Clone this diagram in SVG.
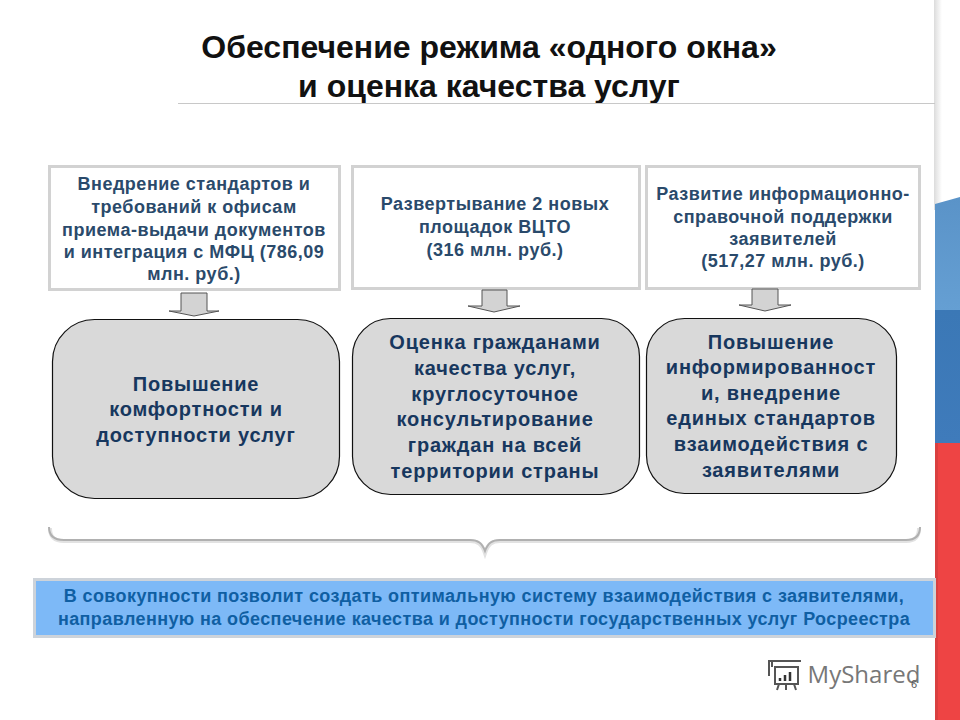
<svg xmlns="http://www.w3.org/2000/svg" width="960" height="720" viewBox="0 0 960 720">
<defs>
<linearGradient id="shade" x1="0" y1="0" x2="1" y2="0"><stop offset="0" stop-color="#dcdcdc"/><stop offset="1" stop-color="#ffffff"/></linearGradient>
<linearGradient id="blue" x1="0" y1="0" x2="0" y2="1"><stop offset="0" stop-color="#5a93c8"/><stop offset="1" stop-color="#659fd3"/></linearGradient>
<linearGradient id="blue2" x1="0" y1="0" x2="0" y2="1"><stop offset="0" stop-color="#3b78b6"/><stop offset="1" stop-color="#3f7bbb"/></linearGradient>
</defs>
<style>
text{font-family:"Liberation Sans",Arial,sans-serif;font-weight:bold;text-anchor:middle}
.title{font-size:32px;fill:#111}
.box{fill:#fff;stroke:#d2d2d2;stroke-width:3}
.t1{font-size:18px;letter-spacing:.5px;fill:#2a4a6b}
.round{fill:#d9d9d9;stroke:#111;stroke-width:1.2}
.t2{font-size:20px;letter-spacing:.8px;fill:#17375e}
.arrow{fill:#d3d3d3;stroke:#555;stroke-width:1}
.t3{font-size:18px;letter-spacing:.4px;fill:#0f5fa3}
</style>
<rect width="960" height="720" fill="#fff"/>
<g id="sidebar">
<rect x="934" y="0" width="8" height="210" fill="url(#shade)"/>
<path d="M935 204L960 197V311H935Z" fill="url(#blue)"/>
<rect x="935" y="310" width="25" height="134" fill="url(#blue2)"/>
<rect x="935" y="443" width="25" height="277" fill="#ee4444"/>
<rect x="935" y="443" width="3" height="277" fill="#d94040"/>
</g>
<g id="title">
<text class="title" x="489" y="58">Обеспечение режима «одного окна»</text>
<text class="title" x="489" y="97">и оценка качества услуг</text>
<line x1="178" y1="103.500" x2="935" y2="103.500" stroke="#c8c8c8" stroke-width="1"/>
</g>
<g id="box-1">
<rect class="box" x="49.500" y="166.500" width="290" height="123"/>
<text class="t1" x="194" y="190">Внедрение стандартов и</text>
<text class="t1" x="194" y="213">требований к офисам</text>
<text class="t1" x="194" y="236">приема-выдачи документов</text>
<text class="t1" x="194" y="258">и интеграция с МФЦ (786,09</text>
<text class="t1" x="194" y="280">млн. руб.)</text>
</g>
<g id="box-2">
<rect class="box" x="352.500" y="166.500" width="287" height="122"/>
<text class="t1" x="495" y="210">Развертывание 2 новых</text>
<text class="t1" x="495" y="233">площадок ВЦТО</text>
<text class="t1" x="495" y="256">(316 млн. руб.)</text>
</g>
<g id="box-3">
<rect class="box" x="646.500" y="166.500" width="273" height="122"/>
<text class="t1" x="783" y="200">Развитие информационно-</text>
<text class="t1" x="783" y="223">справочной поддержки</text>
<text class="t1" x="783" y="245">заявителей</text>
<text class="t1" x="783" y="267">(517,27 млн. руб.)</text>
</g>
<g id="connectors">
<path class="arrow" d="M181 293H207V311H219L194 316L169 311H181Z"/>
<path class="arrow" d="M482 290H507V306H520L494 312L468 306H482Z"/>
<path class="arrow" d="M752 289H778V305H791L765 311L739 305H752Z"/>
</g>
<g id="node-1">
<rect class="round" x="52.500" y="319.500" width="287" height="179" rx="42"/>
<text class="t2" x="196" y="391">Повышение</text>
<text class="t2" x="196" y="416">комфортности и</text>
<text class="t2" x="196" y="442">доступности услуг</text>
</g>
<g id="node-2">
<rect class="round" x="352.500" y="318.500" width="287" height="176" rx="38"/>
<text class="t2" x="495" y="349">Оценка гражданами</text>
<text class="t2" x="495" y="375">качества услуг,</text>
<text class="t2" x="495" y="401">круглосуточное</text>
<text class="t2" x="495" y="426">консультирование</text>
<text class="t2" x="495" y="452">граждан на всей</text>
<text class="t2" x="495" y="478">территории страны</text>
</g>
<g id="node-3">
<rect class="round" x="646.500" y="318.500" width="250" height="175" rx="38"/>
<text class="t2" x="771" y="349">Повышение</text>
<text class="t2" x="771" y="374">информированност</text>
<text class="t2" x="771" y="400">и, внедрение</text>
<text class="t2" x="771" y="425">единых стандартов</text>
<text class="t2" x="771" y="451">взаимодействия с</text>
<text class="t2" x="771" y="477">заявителями</text>
</g>
<g id="brace">
<path d="M50 528C50 537 54 541 64 541H470C478 541 482 544 485 553C488 544 492 541 500 541H906C915 541 919 537 919 528" fill="none" stroke="#e2e2e2" stroke-width="4"/>
<path d="M49 527C49 536 54 540 64 540H470C478 540 482 543 485 551C488 543 492 540 500 540H906C915 540 920 536 920 527" fill="none" stroke="#b0b0b0" stroke-width="2"/>
</g>
<g id="summary">
<rect x="34.500" y="579.500" width="900" height="57" fill="#7db9f7" stroke="#cdd3da" stroke-width="3"/>
<text class="t3" x="484" y="602">В совокупности позволит создать оптимальную систему взаимодействия с заявителями,</text>
<text class="t3" x="484" y="625">направленную на обеспечение качества и доступности государственных услуг Росреестра</text>
</g>
<g id="watermark">
<g fill="none" stroke="#555" stroke-width="2">
<path d="M769 676V661H801M772 661V667M775 667H798V684H775ZM779 684L777 690M786 684V690M794 684L796 690"/>
</g>
<path d="M780 681V678M785 681V675M790 681V672" stroke="#333" stroke-width="2.500"/>
<text x="864" y="683" style="font-family:'Open Sans','Noto Sans',sans-serif;font-weight:400;font-size:24px;fill:#777">MyShared</text>
<text x="914" y="688" style="font-weight:400;font-size:11px;fill:#555">6</text>
</g>
</svg>
